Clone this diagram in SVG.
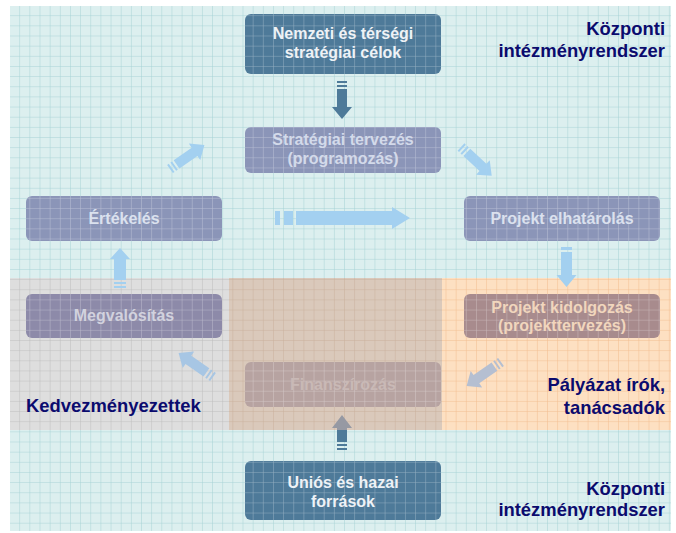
<svg xmlns="http://www.w3.org/2000/svg" width="676" height="533" viewBox="0 0 676 533">
<style>
text{font-family:"Liberation Sans",Arial,sans-serif;font-weight:bold}
.lbl{font-size:18.4px;fill:#0b0b6e}
.bt{font-size:16px;text-anchor:middle}
.dark{fill:#4e7a99}
.mid{fill:#8b95b8}
.grid-w{fill:url(#gW)}
.la{fill:#a3d0f0}
</style>
<defs>
<pattern id="gT" patternUnits="userSpaceOnUse" x="10" y="6" width="10.15" height="10.15"><path d="M10.15 0V10.15M0 10.15H10.15" stroke="#a6d2d5" fill="none"/></pattern>
<pattern id="gG" patternUnits="userSpaceOnUse" x="10" y="6" width="10.15" height="10.15"><path d="M10.15 0V10.15M0 10.15H10.15" stroke="#bdbdbd" fill="none"/></pattern>
<pattern id="gB" patternUnits="userSpaceOnUse" x="10" y="6" width="10.15" height="10.15"><path d="M10.15 0V10.15M0 10.15H10.15" stroke="#c9b09b" fill="none"/></pattern>
<pattern id="gP" patternUnits="userSpaceOnUse" x="10" y="6" width="10.15" height="10.15"><path d="M10.15 0V10.15M0 10.15H10.15" stroke="#f2bd8f" fill="none"/></pattern>
<pattern id="gW" patternUnits="userSpaceOnUse" x="10" y="6" width="10.15" height="10.15"><path d="M10.15 0V10.15M0 10.15H10.15" stroke="#ffffff" stroke-opacity="0.4" fill="none"/></pattern>
<linearGradient id="upDark" gradientUnits="userSpaceOnUse" x1="0" y1="0" x2="35" y2="0">
<stop offset="0" stop-color="#4e7a99"/><stop offset="0.57" stop-color="#4e7a99"/><stop offset="0.57" stop-color="#9699a3"/><stop offset="1" stop-color="#9699a3"/>
</linearGradient>
</defs>

<g id="background">
<rect x="10" y="6" width="661" height="525" fill="#dcefef"/>
<rect x="10" y="278" width="219" height="152" fill="#dedede"/>
<rect x="229" y="278" width="213" height="152" fill="#dac9bb"/>
<rect x="442" y="278" width="229" height="152" fill="#fde0c2"/>
<rect x="10" y="6" width="661" height="272" fill="url(#gT)"/>
<rect x="10" y="430" width="661" height="101" fill="url(#gT)"/>
<rect x="10" y="278" width="219" height="152" fill="url(#gG)"/>
<rect x="229" y="278" width="213" height="152" fill="url(#gB)"/>
<rect x="442" y="278" width="229" height="152" fill="url(#gP)"/>
</g>

<g id="n-nemzeti">
<rect class="dark" x="245" y="14" width="196" height="60" rx="6"/>
<rect class="grid-w" x="245" y="14" width="196" height="60" rx="6"/>
<text class="bt" x="343" y="39" fill="#eef2f6">Nemzeti és térségi</text>
<text class="bt" x="343" y="58" fill="#eef2f6">stratégiai célok</text>
</g>

<g id="n-strategiai">
<rect class="mid" x="245" y="127" width="196" height="46" rx="6"/>
<rect class="grid-w" x="245" y="127" width="196" height="46" rx="6"/>
<text class="bt" x="343" y="145" fill="#d3daea">Stratégiai tervezés</text>
<text class="bt" x="343" y="164" fill="#d3daea">(programozás)</text>
</g>

<g id="n-ertekeles">
<rect class="mid" x="26" y="196" width="196" height="45" rx="6"/>
<rect class="grid-w" x="26" y="196" width="196" height="45" rx="6"/>
<text class="bt" x="124" y="224" fill="#dbe1ee">Értékelés</text>
</g>

<g id="n-elhatarolas">
<rect class="mid" x="464" y="196" width="196" height="45" rx="6"/>
<rect class="grid-w" x="464" y="196" width="196" height="45" rx="6"/>
<text class="bt" x="562" y="224" fill="#dbe1ee">Projekt elhatárolás</text>
</g>

<g id="n-megvalositas">
<rect x="26" y="294" width="196" height="44" rx="6" fill="#8d8aa9"/>
<rect class="grid-w" x="26" y="294" width="196" height="44" rx="6"/>
<text class="bt" x="124" y="321" fill="#d2d2de">Megvalósítás</text>
</g>

<g id="n-kidolgozas">
<rect x="464" y="294" width="196" height="44" rx="6" fill="#a88b8d"/>
<rect class="grid-w" x="464" y="294" width="196" height="44" rx="6"/>
<text class="bt" x="562" y="313" fill="#f1d6bd">Projekt kidolgozás</text>
<text class="bt" x="562" y="331" fill="#f1d6bd">(projekttervezés)</text>
</g>

<g id="n-finanszirozas">
<rect x="245" y="362" width="196" height="45" rx="6" fill="#b7a3a1"/>
<rect class="grid-w" x="245" y="362" width="196" height="45" rx="6"/>
<text class="bt" x="343" y="390" fill="#c9b9b6">Finanszírozás</text>
</g>

<g id="n-unios">
<rect class="dark" x="245" y="461" width="196" height="59" rx="6"/>
<rect class="grid-w" x="245" y="461" width="196" height="59" rx="6"/>
<text class="bt" x="343" y="488" fill="#eef2f6">Uniós és hazai</text>
<text class="bt" x="343" y="507" fill="#eef2f6">források</text>
</g>

<g id="connectors">
<path transform="translate(342,81) rotate(90)" class="dark" d="M0,-5h2v10h-2z M4,-5h2v10h-2z M8,-5H26V-10L38,0L26,10V5H8z"/>
<path transform="translate(170,169) rotate(-35)" class="la" d="M0,-5h2v10h-2z M4,-5h2v10h-2z M8,-5H30V-10L42,0L30,10V5H8z"/>
<path transform="translate(275,218)" class="la" d="M0,-7h5v14h-5z M9,-7h9v14h-9z M21,-7H117V-11L135,0L117,11V7H21z"/>
<path transform="translate(461,147) rotate(43)" class="la" d="M0,-5h2v10h-2z M4,-5h2v10h-2z M8,-5H30V-10L42,0L30,10V5H8z"/>
<path transform="translate(566.5,247) rotate(90)" class="la" d="M0,-5.5h3v11h-3z M5,-5.5H28V-10L40,0L28,10V5.5H5z"/>
<path transform="translate(501,362) rotate(145)" fill="#b5bfd1" d="M0,-5h2v10h-2z M4,-5h2v10h-2z M8,-5H30V-10L42,0L30,10V5H8z"/>
<path transform="translate(213,377) rotate(-145)" fill="#a7c6e4" d="M0,-5h2v10h-2z M4,-5h2v10h-2z M8,-5H30V-10L42,0L30,10V5H8z"/>
<path transform="translate(342,450) rotate(-90)" fill="url(#upDark)" d="M0,-5h2v10h-2z M4,-5h2v10h-2z M8,-5H22V-10L35,0L22,10V5H8z"/>
<path transform="translate(120,288) rotate(-90)" class="la" d="M0,-6h2v12h-2z M4,-6h2v12h-2z M8,-6H29V-10L40,0L29,10V6H8z"/>
</g>

<g id="labels">
<text class="lbl" x="665" y="35" text-anchor="end">Központi</text>
<text class="lbl" x="665" y="57" text-anchor="end">intézményrendszer</text>
<text class="lbl" x="665" y="391" text-anchor="end">Pályázat írók,</text>
<text class="lbl" x="665" y="414" text-anchor="end">tanácsadók</text>
<text class="lbl" x="26" y="412">Kedvezményezettek</text>
<text class="lbl" x="665" y="495" text-anchor="end">Központi</text>
<text class="lbl" x="665" y="516" text-anchor="end">intézményrendszer</text>
</g>
</svg>
